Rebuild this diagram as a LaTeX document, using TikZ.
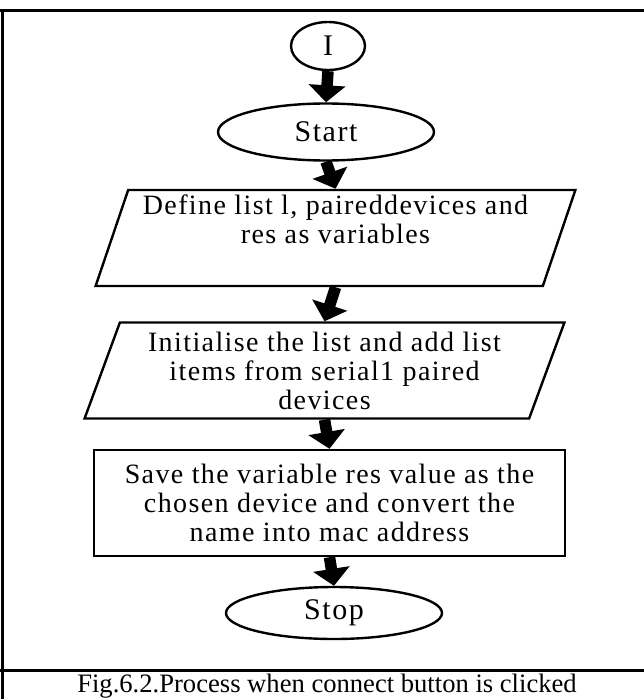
\documentclass[tikz,border=0pt]{standalone}
\usepackage{fontspec}
\setmainfont{Liberation Serif}
% slightly tracked serif used inside the flowchart shapes
\newfontfamily\boxfont[LetterSpace=5]{Liberation Serif}
\usetikzlibrary{shapes.geometric,arrows.meta}

\tikzset{
  frameline/.style={line width=3pt},
  outline/.style={draw, line width=2.4pt, inner sep=0pt, align=center,
    font=\boxfont\fontsize{28}{29}\selectfont},
  terminal/.style={outline, ellipse, font=\boxfont\fontsize{30}{32}\selectfont},
  iobox/.style={outline, trapezium, trapezium stretches=true},
  procbox/.style={outline, rectangle},
  flow/.style={line width=11.5pt, -{Triangle[width=36pt,length=17pt]}}
}

\begin{document}
\begin{tikzpicture}[x=1pt, y=-1pt]
  \useasboundingbox (0,0) rectangle (644,699);

  % frame round the figure and the caption rule
  \draw[frameline] (0,10) -- (644,10);
  \draw[frameline] (2,10) -- (2,699);
  \draw[frameline] (0,670) -- (644,670);

  % flowchart nodes
  \node[terminal, minimum width=74pt, minimum height=48pt] (conn) at (328,46) {I};
  \node[terminal, minimum width=216pt, minimum height=57pt] (start) at (326,132) {Start};
  \node[iobox, trapezium left angle=70.7, trapezium right angle=109.3,
        minimum width=483pt, minimum height=96pt] (define) at (335.5,238)
        {Define list l, paireddevices and\\res as variables\\\strut};
  \node[iobox, trapezium left angle=68.6, trapezium right angle=111.4,
        minimum width=481pt, minimum height=96pt] (init) at (324.5,370.5)
        {Initialise the list and add list\\items from serial1 paired\\devices};
  \node[procbox, minimum width=471pt, minimum height=106pt] (save) at (329.5,503)
        {Save the variable res value as the\\chosen device and convert the\\name into mac address};
  \node[terminal, minimum width=216pt, minimum height=52pt] (stop) at (334,613) {Stop};

  % block arrows between the steps
  \draw[flow] (conn.south) -- (start.north);
  \draw[flow] (start.south) -- (define.north);
  \draw[flow] (define.south) -- (init.north);
  \draw[flow] (init.south) -- (save.north);
  \draw[flow] (save.south) -- (stop.north);

  % caption
  \node[font=\fontsize{26.6}{30}\selectfont] (caption) at (327,686)
        {Fig.6.2.Process when connect button is clicked};
\end{tikzpicture}
\end{document}
